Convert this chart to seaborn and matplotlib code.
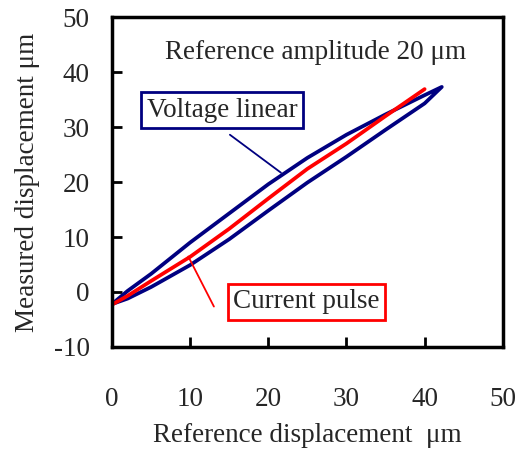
import matplotlib
matplotlib.use("Agg")
import numpy as np
import pandas as pd
import seaborn as sns
import matplotlib.pyplot as plt

# Voltage linear loop: ascending (lower) branch and descending (upper) branch
volt_up_x = [0, 2.0, 5.0, 10.0, 15.0, 20.0, 25.0, 30.0, 35.0, 40.0, 42.2]
volt_up_y = [-2.2, -1.2, 0.9, 4.9, 9.6, 14.8, 19.9, 24.6, 29.5, 34.3, 37.3]
volt_down_x = [42.2, 40.0, 35.0, 30.0, 25.0, 20.0, 15.0, 10.0, 5.0, 2.0, 0]
volt_down_y = [37.3, 35.8, 32.3, 28.6, 24.4, 19.6, 14.3, 9.0, 3.3, 0.2, -2.2]

# Current pulse curve
curr_x = [0, 2.0, 5.0, 10.0, 15.0, 20.0, 25.0, 30.0, 35.0, 40.0]
curr_y = [-2.3, -0.7, 2.0, 6.4, 11.5, 17.0, 22.4, 27.0, 32.0, 36.9]

x_ticks = [0, 10, 20, 30, 40, 50]
y_ticks = [-10, 0, 10, 20, 30, 40, 50]

sns.set_style("ticks")
plt.rcParams['font.family'] = ['Liberation Serif', 'DejaVu Serif']

FS = 19.5

fig = plt.figure(figsize=(5.21, 4.5), dpi=100)
ax = fig.add_axes([0.215, 0.229, 0.75, 0.733])

volt = pd.DataFrame({"x": volt_up_x + volt_down_x, "y": volt_up_y + volt_down_y})
curr = pd.DataFrame({"x": curr_x, "y": curr_y})

sns.lineplot(data=volt, x="x", y="y", sort=False, estimator=None,
             color="#000080", lw=2.7, ax=ax)
sns.lineplot(data=curr, x="x", y="y", sort=False, estimator=None,
             color="#FF0000", lw=2.7, ax=ax)

ax.set_xlim(0, 50)
ax.set_ylim(-10, 50)
ax.set_xticks(x_ticks)
ax.set_yticks(y_ticks)
ax.set_xticklabels([str(v) for v in x_ticks])
ax.set_yticklabels([str(v) for v in y_ticks])
ax.tick_params(direction='in', length=7, width=2, labelsize=FS, color='black')
ax.tick_params(axis='x', pad=29)
ax.tick_params(axis='y', pad=16)
for s in ax.spines.values():
    s.set_linewidth(2.5)
    s.set_color('black')
    s.set_visible(True)

ax.set_xlabel("Reference displacement  \u03bcm", fontsize=FS, labelpad=8)
ax.set_ylabel("Measured displacement \u03bcm", fontsize=FS, labelpad=10)

ax.text(26.1, 43.6, "Reference amplitude 20 \u03bcm", fontsize=FS,
        ha='center', va='center')

ax.annotate("", xy=(21.9, 21.4), xytext=(14.8, 28.9),
            arrowprops=dict(arrowstyle='-', color='#000080', lw=1.3))
ax.text(14.1, 33.1, "Voltage linear", fontsize=FS, ha='center', va='center',
        bbox=dict(boxstyle='square,pad=0.2', fc='white', ec='#000080', lw=2))

ax.annotate("", xy=(9.6, 6.9), xytext=(13.2, -3.1),
            arrowprops=dict(arrowstyle='-', color='#FF0000', lw=1.3))
ax.text(24.9, -1.8, "Current pulse", fontsize=FS, ha='center', va='center',
        bbox=dict(boxstyle='square,pad=0.2', fc='white', ec='#FF0000', lw=2))

fig.savefig("out.png", dpi=100)
